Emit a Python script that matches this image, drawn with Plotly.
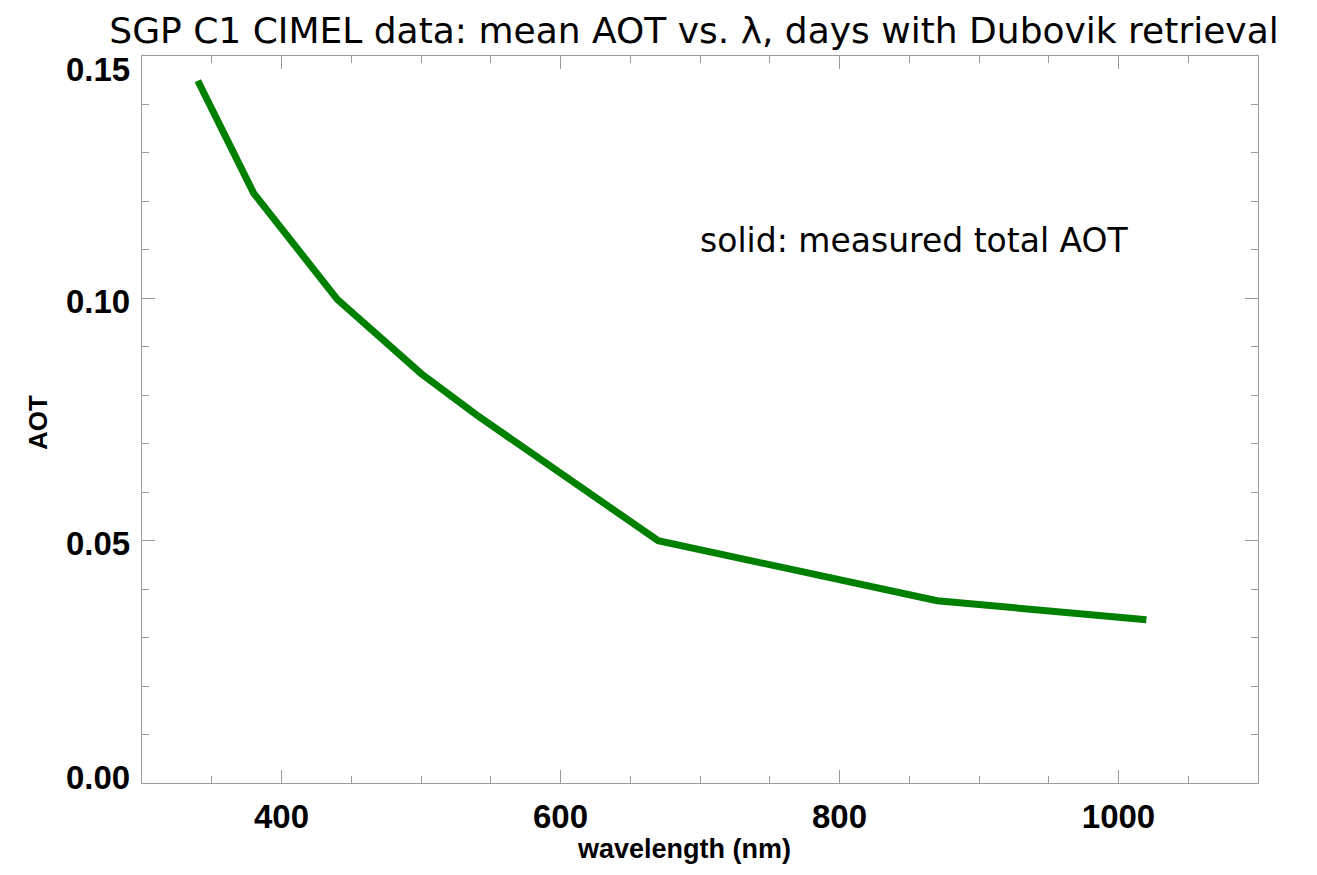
import plotly.graph_objects as go

# Data
wavelength_nm = [340, 380, 440, 500, 540, 670, 870, 1020]
mean_aot = [0.1449, 0.1217, 0.0998, 0.0845, 0.0759, 0.0500, 0.0376, 0.0337]

x_tickvals = [400, 600, 800, 1000]
y_tickvals = [0.00, 0.05, 0.10, 0.15]

title_text = "SGP C1 CIMEL data: mean AOT vs. \u03bb, days with Dubovik retrieval"
note_text = "solid: measured total AOT"

AX = "#9a9a9a"
FONT = "Liberation Sans"
TICKFONT = dict(family=FONT, size=33, color="black", weight="bold")

fig = go.Figure()
fig.add_trace(go.Scatter(
    x=wavelength_nm, y=mean_aot, mode="lines",
    line=dict(color="#008000", width=7), showlegend=False,
    hoverinfo="x+y",
))

axis_common = dict(
    showline=True, linecolor=AX, linewidth=1, mirror="ticks",
    ticks="inside", tickcolor=AX, tickwidth=1, ticklen=13,
    showgrid=False, zeroline=False,
)

fig.update_xaxes(
    range=[300, 1100], tickvals=x_tickvals, ticktext=[str(v) for v in x_tickvals],
    tickfont=TICKFONT,
    minor=dict(dtick=50, tick0=0, ticks="inside", ticklen=7, tickcolor=AX, tickwidth=1, showgrid=False),
    ticklabelstandoff=4,
    **axis_common,
)
fig.update_yaxes(
    range=[0, 0.15], tickvals=y_tickvals, showticklabels=False,
    minor=dict(dtick=0.01, tick0=0, ticks="inside", ticklen=7, tickcolor=AX, tickwidth=1, showgrid=False),
    **axis_common,
)

# y tick labels (IDL style: end labels kept inside the axis span)
annotations = []
for v in y_tickvals:
    if v == y_tickvals[0]:
        shift = 6
    elif v == y_tickvals[-1]:
        shift = -13
    else:
        shift = -3
    annotations.append(dict(
        text=f"{v:.2f}", xref="paper", yref="y", x=0, y=v, xanchor="right",
        yanchor="middle", xshift=-10, yshift=shift, showarrow=False, font=TICKFONT,
    ))

annotations += [
    dict(text=note_text, xref="paper", yref="paper", x=0.6918, y=0.7469,
         xanchor="center", yanchor="middle", showarrow=False,
         font=dict(family="DejaVu Sans", size=33, color="black")),
    dict(text="wavelength (nm)", xref="paper", yref="paper", x=0.4857, y=-0.091,
         xanchor="center", yanchor="middle", showarrow=False,
         font=dict(family=FONT, size=27, color="black", weight="bold")),
    dict(text="AOT", xref="paper", yref="paper", x=-0.0932, y=0.4966,
         xanchor="center", yanchor="middle", showarrow=False, textangle=-90,
         font=dict(family=FONT, size=26, color="black", weight="bold")),
]

fig.update_layout(
    width=1301, height=859,
    margin=dict(l=134, r=51, t=48, b=84),
    paper_bgcolor="white", plot_bgcolor="white",
    title=dict(
        text=title_text, xref="container", yref="container",
        x=0.5273, y=1 - 22 / 859, xanchor="center", yanchor="middle",
        font=dict(family="DejaVu Sans", size=36, color="black"),
    ),
    annotations=annotations,
)

fig.write_html("out.html")
